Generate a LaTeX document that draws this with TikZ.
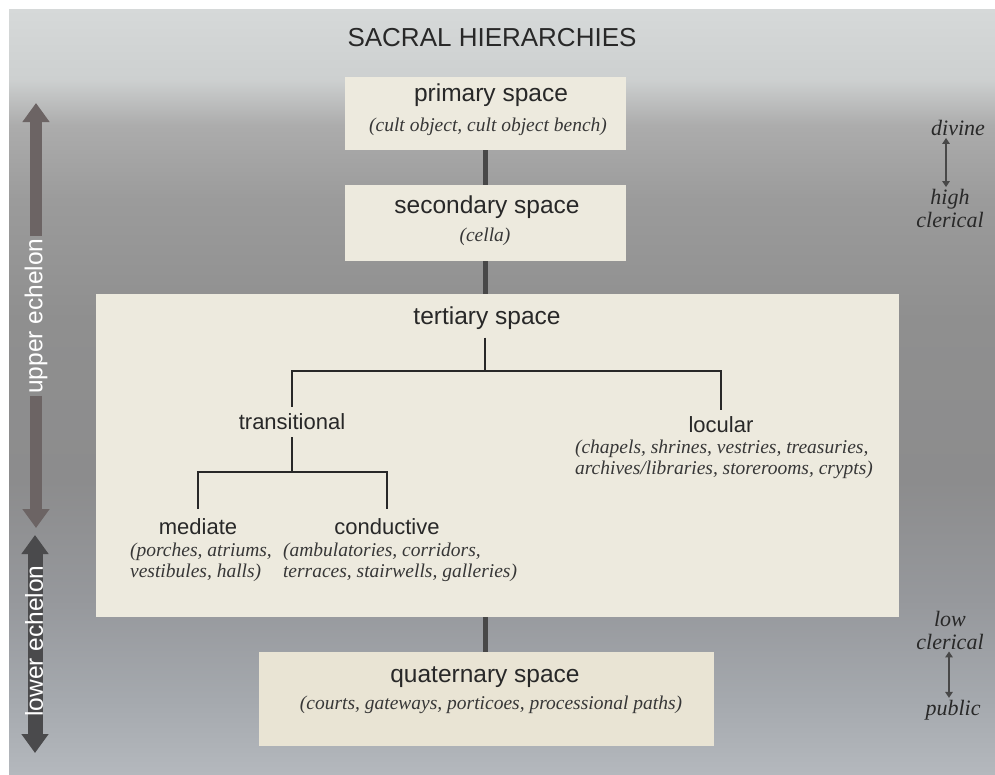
\documentclass[tikz,border=0pt]{standalone}
\usepackage{fontspec}
\setmainfont{Liberation Sans}
\newfontfamily\bookserif{Liberation Serif}
\usetikzlibrary{positioning, arrows.meta}

\definecolor{boxcream}{RGB}{237,234,222}
\definecolor{quatcream}{RGB}{233,228,212}
\definecolor{inkgray}{RGB}{40,40,40}
\definecolor{notegray}{RGB}{55,55,55}
\definecolor{linkgray}{RGB}{72,72,72}
\definecolor{upperarrow}{RGB}{108,100,100}
\definecolor{lowerarrow}{RGB}{74,74,76}
\definecolor{bgA}{RGB}{214,217,217}
\definecolor{bgB}{RGB}{205,208,208}
\definecolor{bgC}{RGB}{172,172,172}
\definecolor{bgCC}{RGB}{155,155,155}
\definecolor{bgD}{RGB}{143,143,143}
\definecolor{bgE}{RGB}{140,140,141}
\definecolor{bgF}{RGB}{150,152,156}
\definecolor{bgG}{RGB}{165,169,174}
\definecolor{bgH}{RGB}{180,184,189}

\pgfdeclareverticalshading{pagebg}{100bp}{color(0bp)=(bgH); color(25bp)=(bgH); color(29.8bp)=(bgG); color(36.4bp)=(bgF); color(44.2bp)=(bgE); color(54.7bp)=(bgD); color(62.5bp)=(bgCC); color(67.4bp)=(bgC); color(70.4bp)=(bgB); color(75bp)=(bgA); color(100bp)=(bgA)}

\begin{document}
\begin{tikzpicture}[x=1pt, y=-1pt,
	every node/.style={inner sep=2pt, align=center},
	spacebox/.style={fill=boxcream, inner sep=0pt},
	headtxt/.style={text=inkgray, font=\fontsize{24.5}{28}\selectfont},
	branchtxt/.style={text=inkgray, font=\fontsize{22}{26}\selectfont, inner sep=7pt},
	notetxt/.style={text=notegray, font=\bookserif\itshape\fontsize{19.5}{21}\selectfont},
	sidetxt/.style={text=inkgray, font=\bookserif\itshape\fontsize{22}{23}\selectfont},
	echtxt/.style={text=white, font=\fontsize{24.5}{28}\selectfont, rotate=90},
	boxlink/.style={draw=linkgray, line width=5pt},
	treeline/.style={draw=inkgray, line width=1.8pt},
	bigarrow/.style={line width=12pt, >={Triangle[width=26pt,length=19pt]}},
	smallarrow/.style={draw=linkgray, line width=2.8pt, >={Triangle[width=7.5pt,length=6pt]}}]

			% Page
			\fill[white] (0,0) rectangle (995,774);
			\shade[shading=pagebg] (9,9) rectangle (995,774);
			\useasboundingbox (0,0) rectangle (995,774);
			% Title
			\node[text=inkgray, font=\fontsize{26}{30}\selectfont] (title) at (492,38) {SACRAL HIERARCHIES};

			% Spaces
			\node[spacebox, minimum width=281, minimum height=73]  (prim) at (485.5,113.5) {};
			\node[spacebox, minimum width=281, minimum height=76]  (sec)  at (485.5,223) {};
			\node[spacebox, minimum width=803, minimum height=323] (tert) at (497.5,455.5) {};
			\node[spacebox, fill=quatcream, minimum width=455, minimum height=94] (quat) at (486.5,699) {};
			% Space labels
			\node[headtxt] (primlab)  at (491,95)  {primary space};
			\node[notetxt] (primnote) at (488,127) {(cult object, cult object bench)};
			\node[headtxt] (seclab)   at (487,207) {secondary space};
			\node[notetxt] (secnote)  at (485,237) {(cella)};
			\node[headtxt] (tertlab)  at (487,318) {tertiary space};
			\node[headtxt] (quatlab)  at (485,677) {quaternary space};
			\node[notetxt] (quatnote) at (491,705) {(courts, gateways, porticoes, processional paths)};

			% Tertiary branches
			\node[branchtxt] (trans) at (292,422) {transitional};
			\node[branchtxt] (locu)  at (721,425) {locular};
			\node[notetxt, align=left] (locunote) at (724,459.5) {(chapels, shrines, vestries, treasuries,\\archives/libraries, storerooms, crypts)};
			\node[branchtxt, inner sep=10pt] (med)  at (198,527) {mediate};
			\node[notetxt, align=left] (mednote)  at (201,562.5) {(porches, atriums,\\vestibules, halls)};
			\node[branchtxt, inner sep=10pt] (cond) at (387,527) {conductive};
			\node[notetxt, align=left] (condnote) at (400,562.5) {(ambulatories, corridors,\\terraces, stairwells, galleries)};
			\coordinate (fork)    at (485,371);
			\coordinate (subfork) at (292,472);

			% Links between spaces
			\draw[boxlink] (prim.south) -- (sec.north);
			\draw[boxlink] (sec.south) -- (sec.south |- tert.north);
			\draw[boxlink] (quat.north -| sec.south) |- (tert.south -| sec.south);
			% Tree
			\draw[treeline, shorten <=6pt] (fork |- tertlab.south) -- (fork);
			\draw[treeline] (trans.north) |- (fork) -| (locu.north);
			\draw[treeline] (trans.south) -- (subfork);
			\draw[treeline] (med.north) |- (subfork) -| (cond.north);

			% Echelons
			\coordinate (uptip)   at (36,103);
			\coordinate (upfoot)  at (36,528);
			\node[echtxt] (upper) at (36,316) {upper echelon};
			\draw[->, bigarrow, draw=upperarrow] (upper) -- (uptip);
			\draw[->, bigarrow, draw=upperarrow] (upper) -- (upfoot);
			\coordinate (lowtip)  at (35,535);
			\coordinate (lowfoot) at (35,753);
			\draw[<->, bigarrow, line width=15pt, draw=lowerarrow] (lowtip) -- (lowfoot);
			\node[echtxt] (lower) at (34,641) {lower echelon};

			% Clergy
			\node[sidetxt] (divine)   at (958,128)   {divine};
			\node[sidetxt] (highcler) at (950,208.5) {high\\clerical};
			\node[sidetxt] (lowcler)  at (950,630)   {low\\clerical};
			\node[sidetxt] (public)   at (953,710)   {public};
			\draw[<->, smallarrow] ([xshift=-4pt]highcler.north) -- ([xshift=-4pt]highcler.north |- divine.south);
			\draw[<->, smallarrow] ([xshift=-4pt]public.north) -- ([xshift=-4pt]public.north |- lowcler.south);
		\end{tikzpicture}
\end{document}
